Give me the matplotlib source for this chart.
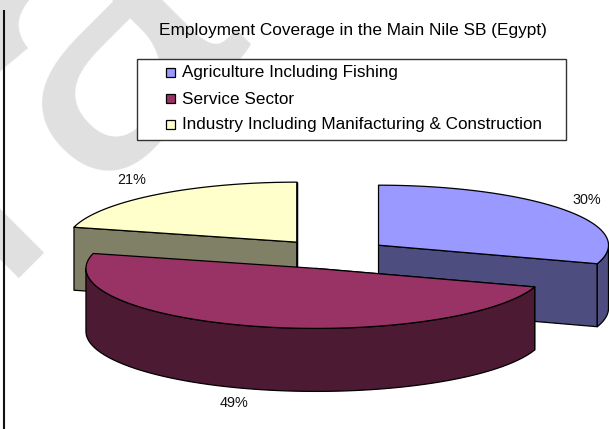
import numpy as np
import matplotlib
matplotlib.use('Agg')
import matplotlib.pyplot as plt
from matplotlib.patches import Polygon, Rectangle

plt.rcParams['font.family'] = ['Liberation Sans', 'DejaVu Sans']

title = 'Employment Coverage in the Main Nile SB (Egypt)'
categories = ['Agriculture Including Fishing', 'Service Sector',
              'Industry Including Manifacturing & Construction']
values = [30, 49, 21]
top_colors = ['#9999FF', '#993366', '#FFFFCC']
side_colors = ['#4D4D80', '#4D1A33', '#808066']
label_pos = [(587, 200), (234, 403), (132, 180)]
draw_order = [0, 2, 1]  # the service slice sits in front of the other two

cx, cy = 332, 254  # pie centre
rx, ry = 230, 60  # ellipse radii of the top face
depth = 63
explode = 0.25

fig = plt.figure(figsize=(6.09, 4.29), dpi=100)
ax = fig.add_axes([0, 0, 1, 1])
ax.set_xlim(0, 609)
ax.set_ylim(429, 0)
ax.axis('off')

# watermark letters behind everything
ax.text(-8, 278, 'ra', rotation=45, rotation_mode='anchor', ha='left', va='baseline',
        fontsize=290, color='#E0E0E0', zorder=0)

# page rule on the left
ax.plot([4, 4], [10, 429], color='#111111', lw=1.5, zorder=1, solid_capstyle='butt')


def arc(x0, y0, a1, a2):
    t = np.radians(np.linspace(a1, a2, 200))
    return np.column_stack([x0 + rx * np.cos(t), y0 - ry * np.sin(t)])


# slices run clockwise from 12 o'clock
starts = 90 - 3.6 * np.concatenate([[0], np.cumsum(values)[:-1]])
spans = 3.6 * np.array(values)

z = 2
for i in draw_order:
    a1 = starts[i]
    a2 = a1 - spans[i]
    mid = np.radians((a1 + a2) / 2)
    x0 = cx + explode * rx * np.cos(mid)
    y0 = cy - explode * ry * np.sin(mid)
    style = dict(ec='black', lw=0.9, joinstyle='round')

    # cut faces, then the outer wall where it faces the viewer
    for a in (a1, a2):
        p = arc(x0, y0, a, a)[0]
        quad = [(x0, y0), p, (p[0], p[1] + depth), (x0, y0 + depth)]
        if np.sin(np.radians(a)) < 0 or i != 1:
            ax.add_patch(Polygon(quad, fc=side_colors[i], zorder=z, **style))
    lo = max(a2, -180)
    hi = min(a1, 0)
    if hi > lo:
        edge = arc(x0, y0, hi, lo)
        wall = np.vstack([edge, edge[::-1] + [0, depth]])
        ax.add_patch(Polygon(wall, fc=side_colors[i], zorder=z + 1, **style))
    face = np.vstack([[(x0, y0)], arc(x0, y0, a1, a2)])
    ax.add_patch(Polygon(face, fc=top_colors[i], zorder=z + 2, **style))
    z += 3

for v, pos in zip(values, label_pos):
    ax.text(pos[0], pos[1], f'{v}%', fontsize=10.4, ha='center', va='center', color='#111111', zorder=30)

ax.text(353, 30, title, fontsize=12.4, ha='center', va='center', color='black', zorder=30)

# legend box
ax.add_patch(Rectangle((137, 58.5), 429, 81, fc='white', ec='#333333', lw=1.0, zorder=28))
for i, name in enumerate(categories):
    y = 72.5 + i * 26
    ax.add_patch(Rectangle((166, y - 4.5), 9, 9, fc=top_colors[i], ec='black', lw=0.9, zorder=29))
    ax.text(182.5, y + 0.5, name, fontsize=12.3, ha='left', va='center', color='black', zorder=30)

fig.savefig('out.png', dpi=100)
